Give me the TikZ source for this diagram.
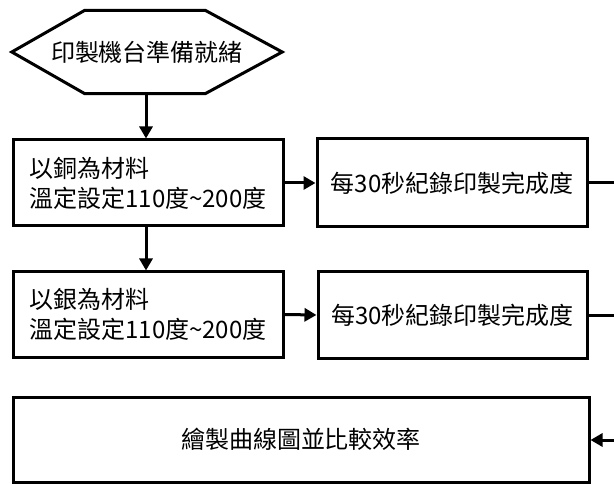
\documentclass[tikz,border=0pt]{standalone}
\usepackage{fontspec}
\newfontfamily\cjk{Noto Sans CJK TC}
\usetikzlibrary{arrows.meta}
\begin{document}
\begin{tikzpicture}[x=1pt,y=-1pt,
  box/.style={draw,line width=3pt,minimum width=#1,inner sep=0pt,font=\cjk\fontsize{24}{30}\selectfont,align=left},
  conn/.style={line width=3pt,-{Triangle[length=12pt,width=13pt]}},
  plain/.style={line width=3pt}]
\useasboundingbox (0,0) rectangle (614,484);
% hexagon start
\node[font=\cjk\fontsize{24}{30}\selectfont,minimum width=270pt,minimum height=83pt,inner sep=0pt] (hex) at (147,52) {印製機台準備就緒};
\draw[line width=3pt,line join=miter] (hex.west) -- ([xshift=73pt]hex.north west) -- ([xshift=-77pt]hex.north east) -- (hex.east) -- ([xshift=-77pt]hex.south east) -- ([xshift=73pt]hex.south west) -- cycle;
\node[box=270pt,minimum height=86pt] (b1) at (148,183) {以銅為材料\\溫定設定110度{\char"7E}200度};
\node[box=270pt,minimum height=85pt] (b2) at (148,314.5) {以銀為材料\\溫定設定110度{\char"7E}200度};
\node[box=270pt,minimum height=88pt] (b3) at (452,183) {每30秒紀錄印製完成度};
\node[box=269pt,minimum height=86pt] (b4) at (452.5,315) {每30秒紀錄印製完成度};
\node[box=576pt,minimum height=85pt] (b5) at (301,439.5) {繪製曲線圖並比較效率};
\coordinate (e3) at (614,183);
\coordinate (e4) at (614,315);
\coordinate (e5) at (614,440);
\draw[conn] (hex.south -| 146,0) -- (b1.north -| 146,0);
\draw[conn] (b1.south -| 146,0) -- (b2.north -| 146,0);
\draw[conn] (b1.east) -- (b3.west);
\draw[conn] (b2.east) -- (b4.west);
\draw[plain] (b3.east) -- (e3);
\draw[plain] (b4.east) -- (e4);
\draw[conn] (e5) -- (e5 -| b5.east);
\end{tikzpicture}
\end{document}
